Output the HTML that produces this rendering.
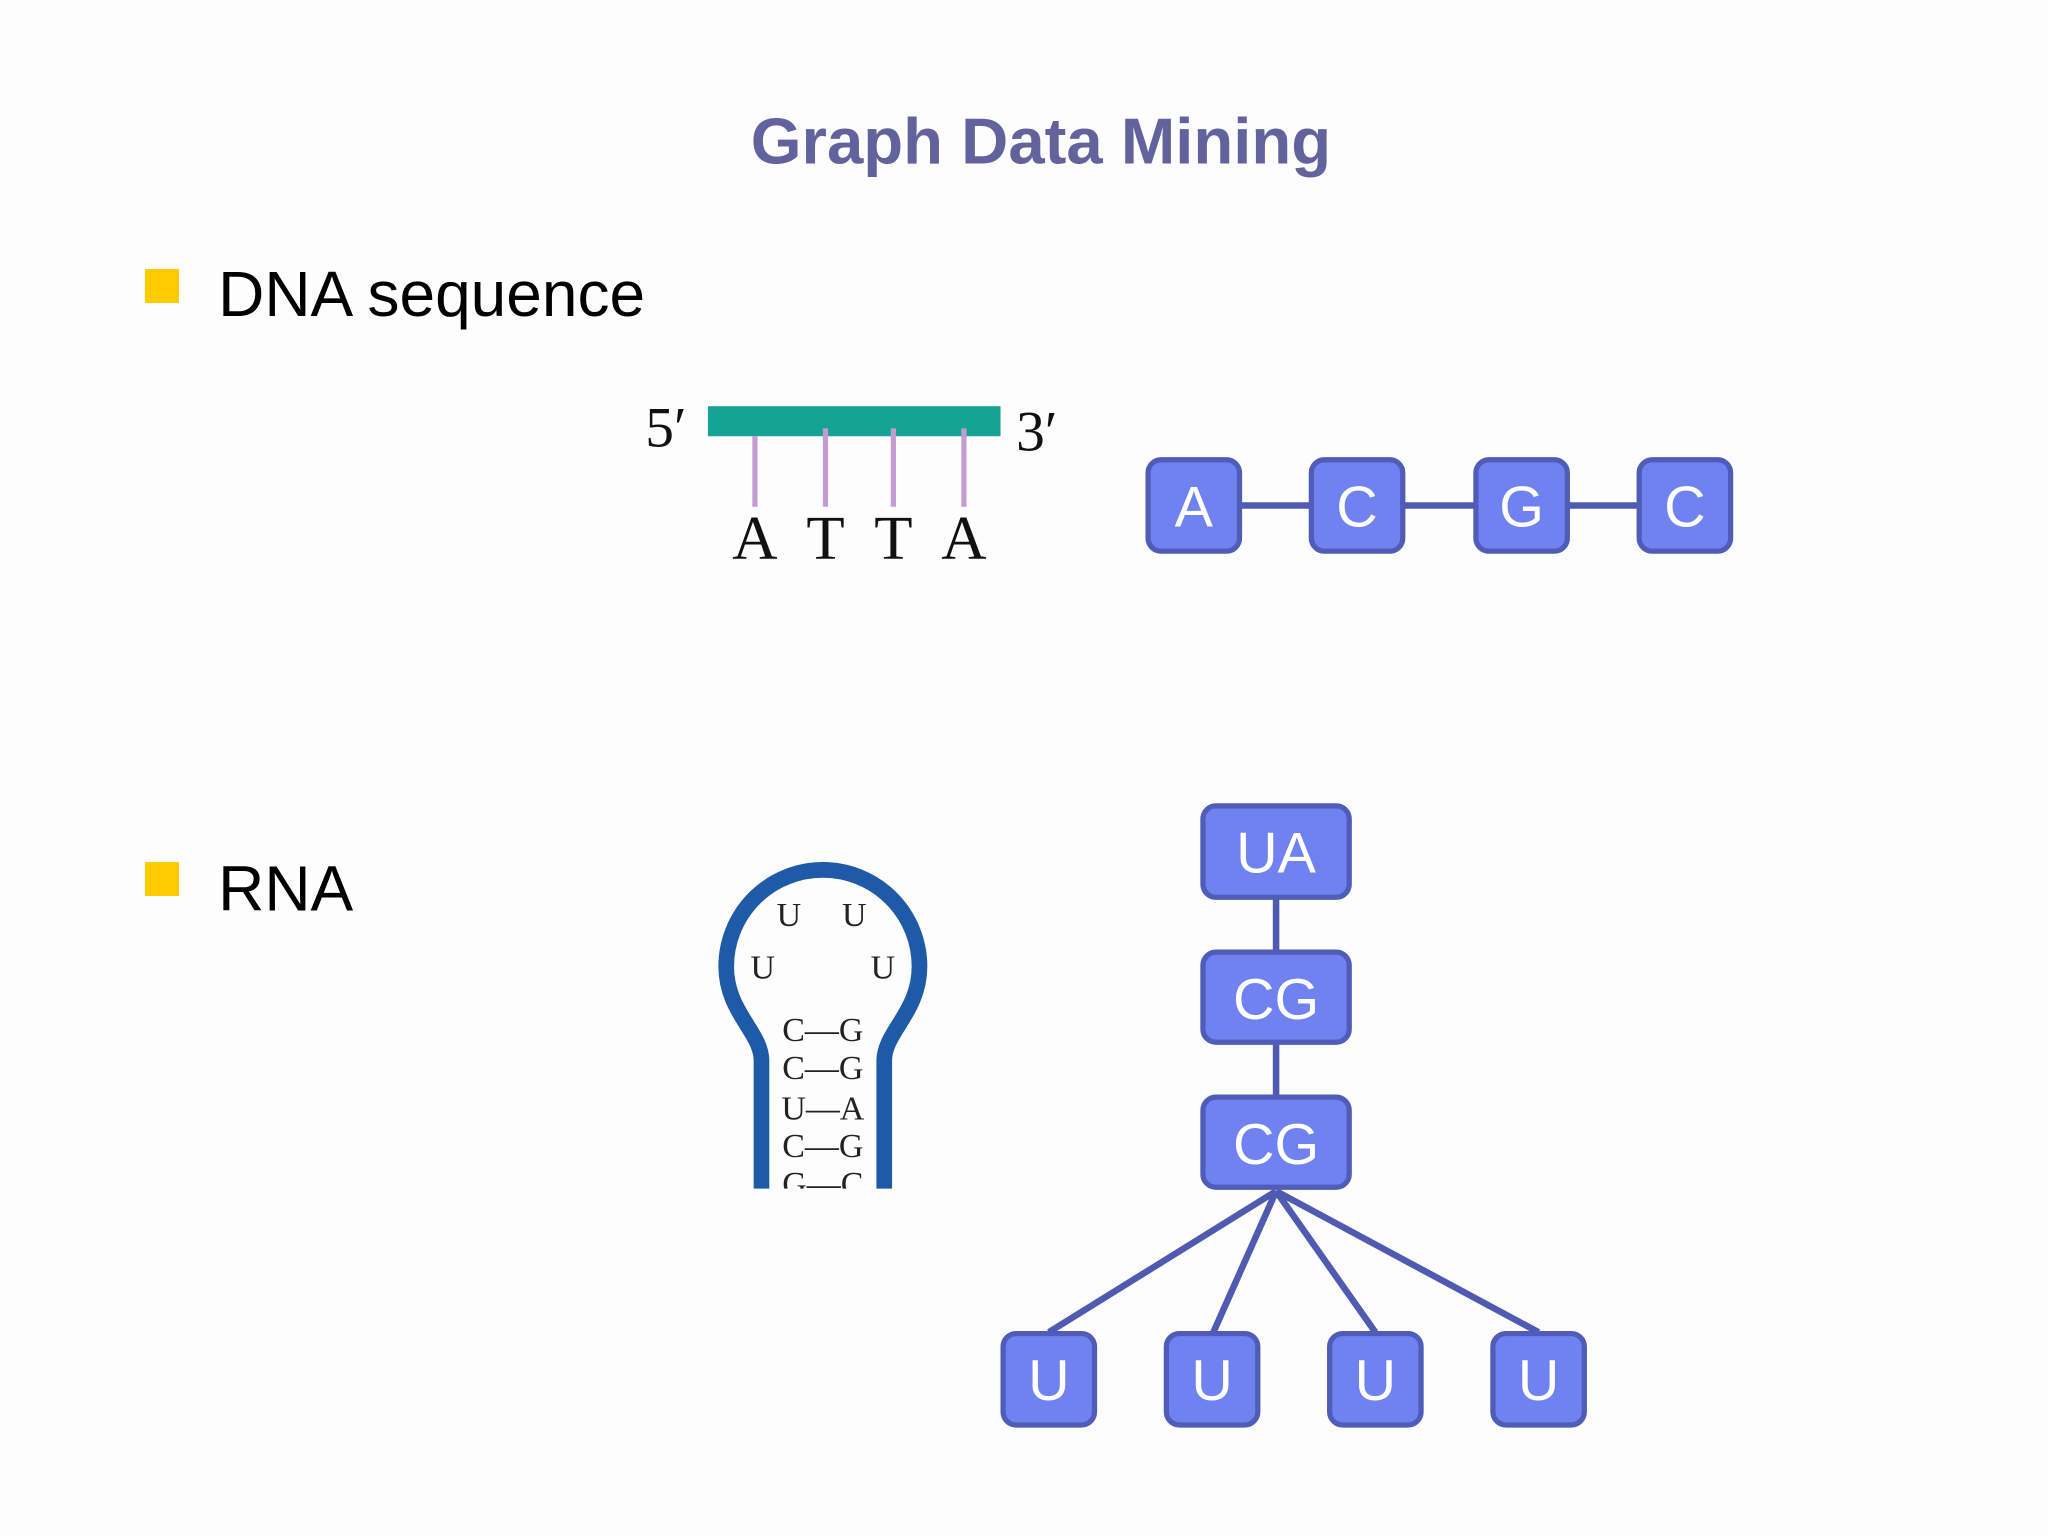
<!DOCTYPE html>
<html><head><meta charset="utf-8"><style>
html,body{margin:0;padding:0;background:#fdfdfd;}
svg{display:block;}
</style></head><body>
<svg width="2048" height="1536" viewBox="0 0 1568 1176" preserveAspectRatio="none" xmlns="http://www.w3.org/2000/svg">
<rect width="1568" height="1176" fill="#fdfdfd"/>
<text x="797" y="125" text-anchor="middle" font-family="Liberation Sans, sans-serif" font-weight="bold" font-size="50" fill="#62639c">Graph Data Mining</text>
<rect x="111" y="206" width="26" height="26" fill="#ffcc00"/>
<text x="167" y="242" font-family="Liberation Sans, sans-serif" font-size="49" fill="#000">DNA sequence</text>
<rect x="111" y="660" width="26" height="26" fill="#ffcc00"/>
<text x="167" y="697" font-family="Liberation Sans, sans-serif" font-size="49" fill="#000">RNA</text>

<g font-family="Liberation Serif, serif" fill="#111">
<text x="494" y="342" font-size="44">5′</text>
<text x="778" y="345" font-size="44">3′</text>
<g font-size="48" text-anchor="middle">
<text x="578" y="428">A</text><text x="632" y="428">T</text><text x="684" y="428">T</text><text x="738" y="428">A</text>
</g>
</g>
<rect x="542" y="311" width="224" height="23" fill="#14a394"/>
<g stroke="#c49ccf" stroke-width="4">
<line x1="578" y1="334" x2="578" y2="388"/><line x1="632" y1="328" x2="632" y2="388"/><line x1="684" y1="328" x2="684" y2="388"/><line x1="738" y1="328" x2="738" y2="388"/>
</g>

<g stroke="#4f5bb0" stroke-width="5">
<line x1="950" y1="387" x2="1254" y2="387"/>
<line x1="977" y1="688" x2="977" y2="839"/>
<line x1="977" y1="912" x2="803" y2="1020"/>
<line x1="977" y1="912" x2="929" y2="1020"/>
<line x1="977" y1="912" x2="1053" y2="1020"/>
<line x1="977" y1="912" x2="1178" y2="1020"/>
</g>
<g fill="#7081f0" stroke="#4f5cb8" stroke-width="4">
<rect x="879" y="352" width="70" height="70" rx="10"/>
<rect x="1004" y="352" width="70" height="70" rx="10"/>
<rect x="1130" y="352" width="70" height="70" rx="10"/>
<rect x="1255" y="352" width="70" height="70" rx="10"/>
<rect x="921" y="617" width="112" height="70" rx="10"/>
<rect x="921" y="729" width="112" height="69" rx="10"/>
<rect x="921" y="840" width="112" height="69" rx="10"/>
<rect x="768" y="1021" width="70" height="70" rx="10"/>
<rect x="893" y="1021" width="70" height="70" rx="10"/>
<rect x="1018" y="1021" width="70" height="70" rx="10"/>
<rect x="1143" y="1021" width="70" height="70" rx="10"/>
</g>
<g font-family="Liberation Sans, sans-serif" font-size="44" fill="#fff" text-anchor="middle">
<text x="914" y="403">A</text><text x="1039" y="403">C</text><text x="1165" y="403">G</text><text x="1290" y="403">C</text>
<text x="977" y="668">UA</text><text x="977" y="780">CG</text><text x="977" y="891">CG</text>
<text x="803" y="1072">U</text><text x="928" y="1072">U</text><text x="1053" y="1072">U</text><text x="1178" y="1072">U</text>
</g>

<defs><clipPath id="c"><rect x="540" y="650" width="180" height="260"/></clipPath></defs>
<g clip-path="url(#c)">
<path d="M583 920 L583 812 C583 790 556 775 556 740 A74 74 0 0 1 704 740 C704 775 677 790 677 812 L677 920" fill="none" stroke="#1f5aa8" stroke-width="12"/>
<g font-family="Liberation Serif, serif" font-size="26" fill="#222" text-anchor="middle">
<text x="604" y="709">U</text><text x="654" y="709">U</text>
<text x="584" y="749">U</text><text x="676" y="749">U</text>
<text x="630" y="797">C—G</text>
<text x="630" y="826">C—G</text>
<text x="630" y="857">U—A</text>
<text x="630" y="886">C—G</text>
<text x="630" y="915">G—C</text>
</g>
</g>
</svg>
</body></html>
